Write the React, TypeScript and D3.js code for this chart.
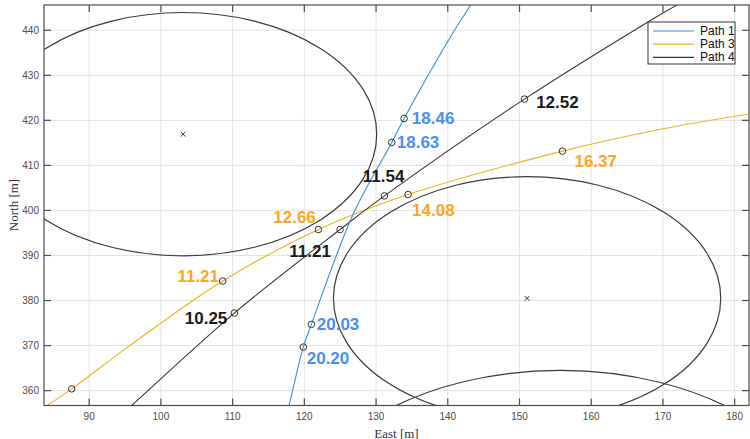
import React from 'react';
import * as d3 from 'd3';

// ---------- data ----------
const xTicks = [90, 100, 110, 120, 130, 140, 150, 160, 170, 180];
const yTicks = [360, 370, 380, 390, 400, 410, 420, 430, 440];

const path1East = [116.6, 117.87, 119.86, 120.98, 126.84, 132.19, 133.91, 140.94, 143.2, 144.6];
const path1North = [348.4, 356.7, 369.67, 374.71, 399.3, 415.09, 420.42, 440.0, 445.6, 449.1];

const path3East = [82.5, 87.56, 95.69, 108.62, 121.96, 134.47, 155.99, 169.0, 182.0, 185.0];
const path3North = [355.0, 360.4, 370.04, 384.33, 395.76, 403.53, 413.16, 417.8, 421.4, 422.1];

const path4East = [93.5, 95.92, 110.24, 124.98, 131.16, 150.69, 167.98, 171.94, 174.5];
const path4North = [353.2, 356.7, 377.22, 395.76, 403.22, 424.71, 441.9, 445.6, 448.0];

const path1MarkEast = [133.91, 132.19, 120.98, 119.86];
const path1MarkNorth = [420.42, 415.09, 374.71, 369.67];
const path1Labels = ['18.46', '18.63', '20.03', '20.20'];

const path3MarkEast = [155.99, 134.47, 121.96, 108.62, 87.56];
const path3MarkNorth = [413.16, 403.53, 395.76, 384.33, 360.4];
const path3Labels = ['16.37', '14.08', '12.66', '11.21', ''];

const path4MarkEast = [150.69, 131.16, 124.98, 110.24];
const path4MarkNorth = [424.71, 403.22, 395.76, 377.22];
const path4Labels = ['12.52', '11.54', '11.21', '10.25'];

const circleEast = [103.09, 151.06, 155.7];
const circleNorth = [416.93, 380.49, 327.0];
const circleRadius = [27, 27, 37.5];
const circleCenterShown = [true, true, false];

const legendNames = ['Path 1', 'Path 3', 'Path 4'];

// ---------- layout ----------
const W = 750, H = 439;
const L = 44, R = 749, T = 5, B = 405.5;
const xDomain = [83.7, 182.0];
const yDomain = [356.7, 445.6];

const C1 = '#3a8fd9';
const C3 = '#edb120';
const C4 = '#3a3a3a';
const C1T = '#4a8ff2';
const C3T = '#ffa51f';
const C4T = '#1a1a1a';

// label offsets (px) relative to marker: [dx, dy, anchor]
const path1Off: [number, number, string][] = [[7.7, 0, 'start'], [5, 0, 'start'], [5.4, 0.3, 'start'], [3.4, 11, 'start']];
const path3Off: [number, number, string][] = [[12, 10, 'start'], [4, 15.7, 'start'], [-2.6, -12, 'end'], [-3.7, -4.7, 'end'], [0, 0, 'start']];
const path4Off: [number, number, string][] = [[11.7, 3.7, 'start'], [-21.6, -19, 'start'], [-50.7, 22, 'start'], [-7, 5.6, 'end']];

export default function App() {
  const x = d3.scaleLinear().domain(xDomain).range([L, R]);
  const y = d3.scaleLinear().domain(yDomain).range([B, T]);

  const mk = (es: number[], ns: number[]) => es.map((e, i) => [e, ns[i]] as [number, number]);
  const line = d3.line<[number, number]>().x(d => x(d[0])).y(d => y(d[1])).curve(d3.curveCatmullRom.alpha(0.5));

  const font = "'Liberation Sans', Arial, Helvetica, sans-serif";

  const markers = (es: number[], ns: number[], labels: string[], off: [number, number, string][], col: string, key: string) =>
    es.map((e, i) => (
      <g key={key + i}>
        <circle cx={x(e)} cy={y(ns[i])} r={3.3} fill="none" stroke="#333" strokeWidth={1} clipPath="url(#plotclip)" />
        {labels[i] ? (
          <text x={x(e) + off[i][0]} y={y(ns[i]) + off[i][1]} dominantBaseline="central" textAnchor={off[i][2] as any}
            fontFamily={font} fontWeight="bold" fontSize={17} fill={col}>{labels[i]}</text>
        ) : null}
      </g>
    ));

  const tick = 7;

  return (
    <svg width={W} height={H} style={{ position: 'absolute', left: 0, top: 0, background: '#fff' }}>
      <defs>
        <clipPath id="plotclip"><rect x={L} y={T} width={R - L} height={B - T} /></clipPath>
      </defs>
      <rect x={0} y={0} width={W} height={H} fill="#fff" />
      {/* grid */}
      <g stroke="#e3e3e3" strokeWidth={1}>
        {xTicks.map(t => <line key={'gx' + t} x1={x(t)} x2={x(t)} y1={T} y2={B} />)}
        {yTicks.map(t => <line key={'gy' + t} x1={L} x2={R} y1={y(t)} y2={y(t)} />)}
      </g>
      {/* circles */}
      <g clipPath="url(#plotclip)" fill="none" stroke={C4} strokeWidth={1.2}>
        {circleEast.map((e, i) => (
          <ellipse key={'c' + i} cx={x(e)} cy={y(circleNorth[i])}
            rx={x(e + circleRadius[i]) - x(e)} ry={y(circleNorth[i]) - y(circleNorth[i] + circleRadius[i])} />
        ))}
        {circleEast.map((e, i) => circleCenterShown[i] ? (
          <g key={'cx' + i} strokeWidth={0.9} stroke="#222">
            <line x1={x(e) - 2.5} x2={x(e) + 2.5} y1={y(circleNorth[i]) - 2.5} y2={y(circleNorth[i]) + 2.5} />
            <line x1={x(e) - 2.5} x2={x(e) + 2.5} y1={y(circleNorth[i]) + 2.5} y2={y(circleNorth[i]) - 2.5} />
          </g>
        ) : null)}
      </g>
      {/* paths */}
      <g clipPath="url(#plotclip)" fill="none" strokeWidth={1.1}>
        <path d={line(mk(path3East, path3North)) || ''} stroke={C3} />
        <path d={line(mk(path4East, path4North)) || ''} stroke={C4} />
        <path d={line(mk(path1East, path1North)) || ''} stroke={C1} />
      </g>
      {/* axes box */}
      <g stroke="#4d4d4d" strokeWidth={1.2}>
        <rect x={L} y={T} width={R - L} height={B - T} fill="none" />
        {xTicks.map(t => <line key={'tb' + t} x1={x(t)} x2={x(t)} y1={B} y2={B - tick} />)}
        {xTicks.map(t => <line key={'tt' + t} x1={x(t)} x2={x(t)} y1={T} y2={T + tick} />)}
        {yTicks.map(t => <line key={'tl' + t} x1={L} x2={L + tick} y1={y(t)} y2={y(t)} />)}
        {yTicks.map(t => <line key={'tr' + t} x1={R} x2={R - tick} y1={y(t)} y2={y(t)} />)}
      </g>
      {/* tick labels */}
      <g fontFamily={font} fontSize={10} fill="#4d4d4d">
        {xTicks.map(t => <text key={'lx' + t} x={x(t)} y={B + 11} textAnchor="middle" dominantBaseline="central">{t}</text>)}
        {yTicks.map(t => <text key={'ly' + t} x={L - 5} y={y(t)} textAnchor="end" dominantBaseline="central">{t}</text>)}
      </g>
      {/* axis labels */}
      <text x={(L + R) / 2} y={433} textAnchor="middle" dominantBaseline="central" fontFamily="'Liberation Serif', 'DejaVu Serif', serif" fontSize={13} fill="#333">East [m]</text>
      <text transform={`translate(13,205) rotate(-90)`} textAnchor="middle" dominantBaseline="central" fontFamily="'Liberation Serif', 'DejaVu Serif', serif" fontSize={13} fill="#333">North [m]</text>
      {/* markers and labels */}
      {markers(path3MarkEast, path3MarkNorth, path3Labels, path3Off, C3T, 'm3')}
      {markers(path4MarkEast, path4MarkNorth, path4Labels, path4Off, C4T, 'm4')}
      {markers(path1MarkEast, path1MarkNorth, path1Labels, path1Off, C1T, 'm1')}
      {/* legend */}
      <g>
        <rect x={648} y={22} width={87} height={42} fill="#fff" stroke="#333" strokeWidth={1} />
        {legendNames.map((n, i) => (
          <g key={'lg' + i}>
            <line x1={653} x2={694} y1={31 + i * 13.2} y2={31 + i * 13.2} stroke={[C1, C3, C4][i]} strokeWidth={1.2} />
            <text x={700} y={31 + i * 13.2} dominantBaseline="central" fontFamily={font} fontSize={12} fill="#111">{n}</text>
          </g>
        ))}
      </g>
    </svg>
  );
}
